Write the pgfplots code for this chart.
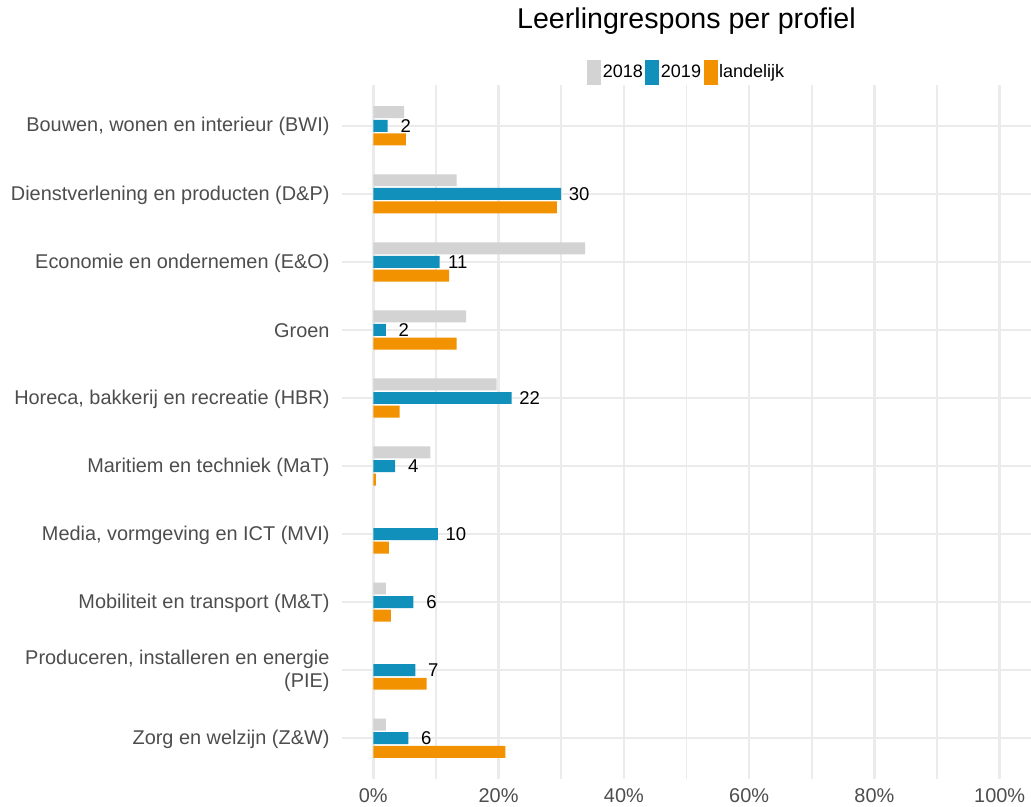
\documentclass[border=0pt]{standalone}
\usepackage{fontspec}
\setmainfont{Liberation Sans}
\usepackage{pgfplots}
\pgfplotsset{compat=1.18}
\definecolor{c18}{HTML}{D3D3D3}
\definecolor{c19}{HTML}{1190BB}
\definecolor{cland}{HTML}{F39200}
\definecolor{gridc}{HTML}{EBEBEB}
\definecolor{tickc}{HTML}{4D4D4D}
\begin{document}
\begin{tikzpicture}
\useasboundingbox (-342bp,-28bp) rectangle (689bp,779bp);
\begin{axis}[
  at={(0,0)}, anchor=south west,
  scale only axis, width=689bp, height=694bp,
  xmin=-5, xmax=105, ymin=-0.6, ymax=9.6, y dir=reverse,
  xbar, bar width=0.176,
  axis line style={draw=none},
  major tick length=0pt, minor tick length=0pt,
  xtick={0,20,40,60,80,100},
  xticklabels={0\%,20\%,40\%,60\%,80\%,100\%},
  minor xtick={10,30,50,70,90},
  ytick={0,1,2,3,4,5,6,7,8,9},
  yticklabels={
    {Bouwen, wonen en interieur (BWI)},
    {Dienstverlening en producten (D\&P)},
    {Economie en ondernemen (E\&O)},
    {Groen},
    {Horeca, bakkerij en recreatie (HBR)},
    {Maritiem en techniek (MaT)},
    {Media, vormgeving en ICT (MVI)},
    {Mobiliteit en transport (M\&T)},
    {Produceren, installeren en energie\\(PIE)},
    {Zorg en welzijn (Z\&W)}},
  xmajorgrids, xminorgrids, ymajorgrids,
  major grid style={gridc, line width=2.4bp},
  minor grid style={gridc, line width=1.6bp},
  ticklabel style={font=\fontsize{19.9bp}{23bp}\selectfont, text=tickc},
  yticklabel style={align=right, xshift=-9bp, yshift=-1bp},
  xticklabel style={yshift=-6bp},
  title={Leerlingrespons per profiel},
  title style={at={(0.5,1)}, anchor=center, yshift=58bp, font=\fontsize{28.6bp}{34bp}\selectfont},
  legend columns=3,
  legend style={at={(0.5,1)}, anchor=center, yshift=13bp, draw=none, fill=none,
    font=\fontsize{18bp}{21bp}\selectfont, inner sep=0pt,
    nodes={inner sep=1.5bp},
    /tikz/every even column/.append style={column sep=1bp}},
  legend image code/.code={\fill[#1] (0bp,-12.5bp) rectangle (14bp,12.5bp);},
]
\addplot[fill=c18, draw=none, bar shift=-0.2] coordinates {
  (4.9,0) (13.3,1) (33.8,2) (14.8,3) (19.7,4) (9.1,5) (2.0,7) (2.0,9)};
\addlegendentry{2018}
\addplot[fill=c19, draw=none, bar shift=0, nodes near coords, point meta=explicit symbolic,
  every node near coord/.append style={anchor=center, xshift=18bp, font=\fontsize{18.5bp}{21bp}\selectfont, text=black}]
  coordinates {
  (2.3,0) [2] (30.0,1) [30] (10.6,2) [11] (2.0,3) [2] (22.1,4) [22]
  (3.5,5) [4] (10.3,6) [10] (6.4,7) [6] (6.7,8) [7] (5.6,9) [6]};
\addlegendentry{2019}
\addplot[fill=cland, draw=none, bar shift=0.2] coordinates {
  (5.2,0) (29.3,1) (12.1,2) (13.3,3) (4.2,4) (0.4,5) (2.5,6) (2.8,7) (8.5,8) (21.1,9)};
\addlegendentry{landelijk}
\end{axis}
\end{tikzpicture}
\end{document}
